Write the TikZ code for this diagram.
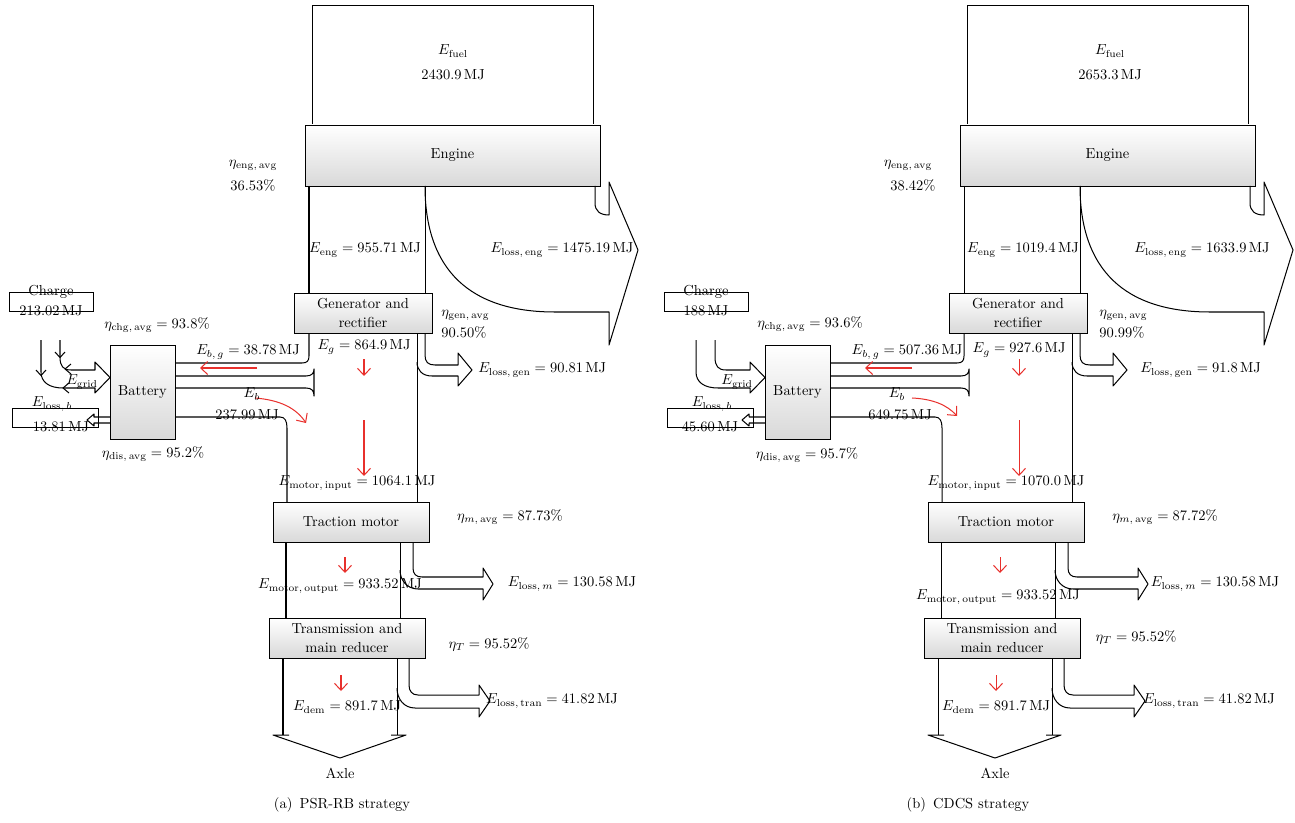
\documentclass[tikz,border=0pt]{standalone}
\usepackage{amsmath}
\usetikzlibrary{arrows.meta}
\definecolor{arrred}{RGB}{232,48,44}
\newcommand\U{0.69pt}
\tikzset{
  lab/.style={inner sep=0pt, font=\fontsize{10}{12}\selectfont},
  box/.style={draw, line width=0.65pt, top color=white, bottom color=black!15,
    inner sep=0pt, align=center, font=\fontsize{10}{13.2}\selectfont},
  plainbox/.style={draw, line width=0.65pt, inner sep=0pt},
  flow/.style={line width=0.7pt, line join=round},
  redarr/.style={draw=arrred, line width=0.7pt, -{Straight Barb[length=4.8pt,width=9pt]}},
}
% structure shared by both panels; #1 = name prefix
\newcommand\sankeypanel[1]{%
  % fuel and engine
  \node[plainbox, minimum width=281*\U, minimum height=120*\U] (#1fuel) at (452.5,65) {};
  \node[box, minimum width=295*\U, minimum height=61*\U] (#1eng) at (452.5,155.5) {Engine};
  \coordinate (#1engL) at (309,186);
  \coordinate (#1engR) at (425,186);
  \coordinate (#1engX) at (595,186);
  % engine -> generator
  \node[box, minimum width=138*\U, minimum height=40*\U] (#1gen) at (363,313) {Generator and\\rectifier};
  \draw[flow] (#1engL) -- (309,293);
  \draw[flow] (#1engR) -- (425,293);
  % engine loss
  \draw[flow] (#1engX) -- (595,203) .. controls (595,211) and (600,215) .. (609,215)
     -- (609,182) -- (638,250) -- (609,345) -- (609,312) -- (555,312)
     .. controls (470,312) and (425,270) .. (#1engR);
  % battery
  \node[box, minimum width=65*\U, minimum height=94*\U] (#1bat) at (142.5,392) {Battery};
  % generator -> battery (E_b,g)
  \draw[flow] (309,333) -- (309,356) .. controls (309,361) and (307,363) .. (302,363) -- (175,363);
  % battery -> bus bracket (E_b)
  \draw[flow] (175,376) -- (306,376) .. controls (312,376) and (314,373) .. (314,369) -- (314,396)
     .. controls (314,391) and (312,388) .. (306,388) -- (175,388);
  % battery -> motor
  \draw[flow] (175,417) -- (280,417) .. controls (285,417) and (287,421) .. (287,428) -- (287,502);
  % generator -> motor
  \draw[flow] (417,333) -- (417,502);
  % generator loss
  \draw[flow] (425,333) -- (425,355) .. controls (425,362) and (428,365) .. (435,365) -- (458,365)
     -- (458,353) -- (472,370) -- (458,386) -- (458,376) -- (432,376)
     .. controls (422,376) and (417,370) .. (417,362);
  % charge (grid)
  \node[plainbox, minimum width=84*\U, minimum height=19*\U] (#1chg) at (51,301.5) {};
  \draw[flow] (60,340) -- (60,357) .. controls (60,366) and (63,370) .. (71,370) -- (95,370)
     -- (95,362) -- (110,377.5) -- (95,393) -- (95,388) -- (63,388)
     .. controls (49,388) and (41,382) .. (41,372) -- (41,340);
  % battery loss
  \node[plainbox, minimum width=86*\U, minimum height=19*\U] (#1lossb) at (55,417.5) {};
  \draw[flow] (110,417) -- (94,417) -- (94,414) -- (87,420) -- (94,426) -- (94,423) -- (110,423);
  % traction motor
  \node[box, minimum width=156*\U, minimum height=40*\U] (#1mot) at (351,522) {Traction motor};
  \draw[flow] (286,542) -- (286,618);
  \draw[flow] (400,542) -- (400,618);
  \draw[flow] (413,542) -- (413,568) .. controls (413,574) and (416,577) .. (422,577) -- (483,577)
     -- (483,568) -- (493,584) -- (483,600) -- (483,589) -- (418,589)
     .. controls (407,589) and (400,580) .. (400,570);
  % transmission
  \node[box, minimum width=156*\U, minimum height=40*\U] (#1tra) at (347,638) {Transmission and\\main reducer};
  \draw[flow] (283,658) -- (283,735);
  \draw[flow] (397,658) -- (397,735);
  \draw[flow] (409,658) -- (409,685) .. controls (409,691) and (412,695) .. (418,695) -- (479,695)
     -- (479,685) -- (490,701) -- (479,717) -- (479,708) -- (415,708)
     .. controls (404,708) and (397,699) .. (397,688);
  % axle
  \coordinate (#1axle) at (340,758);
  \draw[flow] (289,735) -- (273,735) -- (#1axle) -- (406,735) -- (391,735);
  \node[lab] (#1axlet) at (340,773) {Axle};
  % red arrows in the main stream
  \draw[redarr] (364,359) -- (364,376);
  \draw[redarr] (364,420) -- (364,476);
  \draw[redarr] (345,557) -- (345,573);
  \draw[redarr] (341,675) -- (341,691);
}
\begin{document}
\begin{tikzpicture}[x=\U,y=-\U]
\useasboundingbox (0,0) rectangle (1295,822);

% ===================== panel (a) =====================
\sankeypanel{a}
% grid arrow chevrons (only in panel a)
\draw[flow] (55,352) -- (60,357.5) -- (65,352);
\draw[flow] (36,370) -- (41,375.5) -- (46,370);
\draw[flow] (71,364) -- (65,369) -- (71,374);
\draw[flow] (69,383) -- (63,388) -- (69,393);
\draw[redarr] (257,368) -- (200,368);
\draw[redarr] (255,398) .. controls (280,400) and (296,408) .. (306,423);

\node[lab] (afuelt) at (453,51) {$E_{\mathrm{fuel}}$};
\node[lab] (afuelv) at (453,75) {2430.9\,MJ};
\node[lab] (aetaeng) at (253,165) {$\eta_{\mathrm{eng,\,avg}}$};
\node[lab] (aetaengv) at (253,185) {36.53\%};
\node[lab] (aEeng) at (365,250) {$E_{\mathrm{eng}} = 955.71\,\mathrm{MJ}$};
\node[lab] (aEloseng) at (562,250) {$E_{\mathrm{loss,\,eng}} = 1475.19\,\mathrm{MJ}$};
\node[lab, anchor=west] (aetagen) at (441,315) {$\eta_{\mathrm{gen,\,avg}}$};
\node[lab, anchor=west] (aetagenv) at (441,332) {90.50\%};
\node[lab] (aEg) at (364,347) {$E_g = 864.9\,\mathrm{MJ}$};
\node[lab, anchor=west] (aElosgen) at (478,370) {$E_{\mathrm{loss,\,gen}} = 90.81\,\mathrm{MJ}$};
\node[lab] (aEbg) at (248,352) {$E_{b,\,g} = 38.78\,\mathrm{MJ}$};
\node[lab] (aEb) at (252,394) {$E_b$};
\node[lab] (aEbv) at (247,415) {237.99\,MJ};
\node[lab] (aetachg) at (157,325) {$\eta_{\mathrm{chg,\,avg}} = 93.8\%$};
\node[lab] (aetadis) at (153,454) {$\eta_{\mathrm{dis,\,avg}} = 95.2\%$};
\node[lab] (acht) at (51,292) {Charge};
\node[lab] (achv) at (51,311) {213.02\,MJ};
\node[lab] (agrid) at (82,382) {$E_{\mathrm{grid}}$};
\node[lab] (alosbt) at (52,404) {$E_{\mathrm{loss},\,b}$};
\node[lab] (alosbv) at (61,427) {13.81\,MJ};
\node[lab] (aEmi) at (357,483) {$E_{\mathrm{motor,\,input}} = 1064.1\,\mathrm{MJ}$};
\node[lab] (aetam) at (510,517) {$\eta_{m,\,\mathrm{avg}} = 87.73\%$};
\node[lab] (aElosm) at (572,584) {$E_{\mathrm{loss},\,m} = 130.58\,\mathrm{MJ}$};
\node[lab] (aEmo) at (340,586) {$E_{\mathrm{motor,\,output}} = 933.52\,\mathrm{MJ}$};
\node[lab] (aetaT) at (489,644) {$\eta_T = 95.52\%$};
\node[lab] (aElostr) at (552,701) {$E_{\mathrm{loss,\,tran}} = 41.82\,\mathrm{MJ}$};
\node[lab] (aEdem) at (347,707) {$E_{\mathrm{dem}} = 891.7\,\mathrm{MJ}$};
\node[lab] (acap) at (342,805) {(a)\enspace PSR-RB strategy};

% ===================== panel (b) =====================
\begin{scope}[shift={(655,0)}]
\sankeypanel{b}
\draw[redarr] (257,368) -- (210,368);
\draw[redarr] (257,398) .. controls (278,399) and (292,405) .. (302,416);

\node[lab] (bfuelt) at (455,51) {$E_{\mathrm{fuel}}$};
\node[lab] (bfuelv) at (455,75) {2653.3\,MJ};
\node[lab] (betaeng) at (253,165) {$\eta_{\mathrm{eng,\,avg}}$};
\node[lab] (betaengv) at (258,185) {38.42\%};
\node[lab] (bEeng) at (368,250) {$E_{\mathrm{eng}} = 1019.4\,\mathrm{MJ}$};
\node[lab] (bEloseng) at (547,250) {$E_{\mathrm{loss,\,eng}} = 1633.9\,\mathrm{MJ}$};
\node[lab, anchor=west] (betagen) at (444,315) {$\eta_{\mathrm{gen,\,avg}}$};
\node[lab, anchor=west] (betagenv) at (444,332) {90.99\%};
\node[lab] (bEg) at (364,350) {$E_g = 927.6\,\mathrm{MJ}$};
\node[lab, anchor=west] (bElosgen) at (485,370) {$E_{\mathrm{loss,\,gen}} = 91.8\,\mathrm{MJ}$};
\node[lab] (bEbg) at (252,352) {$E_{b,\,g} = 507.36\,\mathrm{MJ}$};
\node[lab] (bEb) at (242,394) {$E_b$};
\node[lab] (bEbv) at (245,415) {649.75\,MJ};
\node[lab] (betachg) at (155,324) {$\eta_{\mathrm{chg,\,avg}} = 93.6\%$};
\node[lab] (betadis) at (152,455) {$\eta_{\mathrm{dis,\,avg}} = 95.7\%$};
\node[lab] (bcht) at (51,292) {Charge};
\node[lab] (bchv) at (51,311) {188\,MJ};
\node[lab] (bgrid) at (82,382) {$E_{\mathrm{grid}}$};
\node[lab] (blosbt) at (57,404) {$E_{\mathrm{loss},\,b}$};
\node[lab] (blosbv) at (55,427) {45.60\,MJ};
\node[lab] (bEmi) at (351,483) {$E_{\mathrm{motor,\,input}} = 1070.0\,\mathrm{MJ}$};
\node[lab] (betam) at (510,517) {$\eta_{m,\,\mathrm{avg}} = 87.72\%$};
\node[lab] (bElosm) at (560,584) {$E_{\mathrm{loss},\,m} = 130.58\,\mathrm{MJ}$};
\node[lab] (bEmo) at (343,597) {$E_{\mathrm{motor,\,output}} = 933.52\,\mathrm{MJ}$};
\node[lab] (betaT) at (481,637) {$\eta_T = 95.52\%$};
\node[lab] (bElostr) at (554,701) {$E_{\mathrm{loss,\,tran}} = 41.82\,\mathrm{MJ}$};
\node[lab] (bEdem) at (341,707) {$E_{\mathrm{dem}} = 891.7\,\mathrm{MJ}$};
\node[lab] (bcap) at (313,805) {(b)\enspace CDCS strategy};
\end{scope}
\end{tikzpicture}
\end{document}
